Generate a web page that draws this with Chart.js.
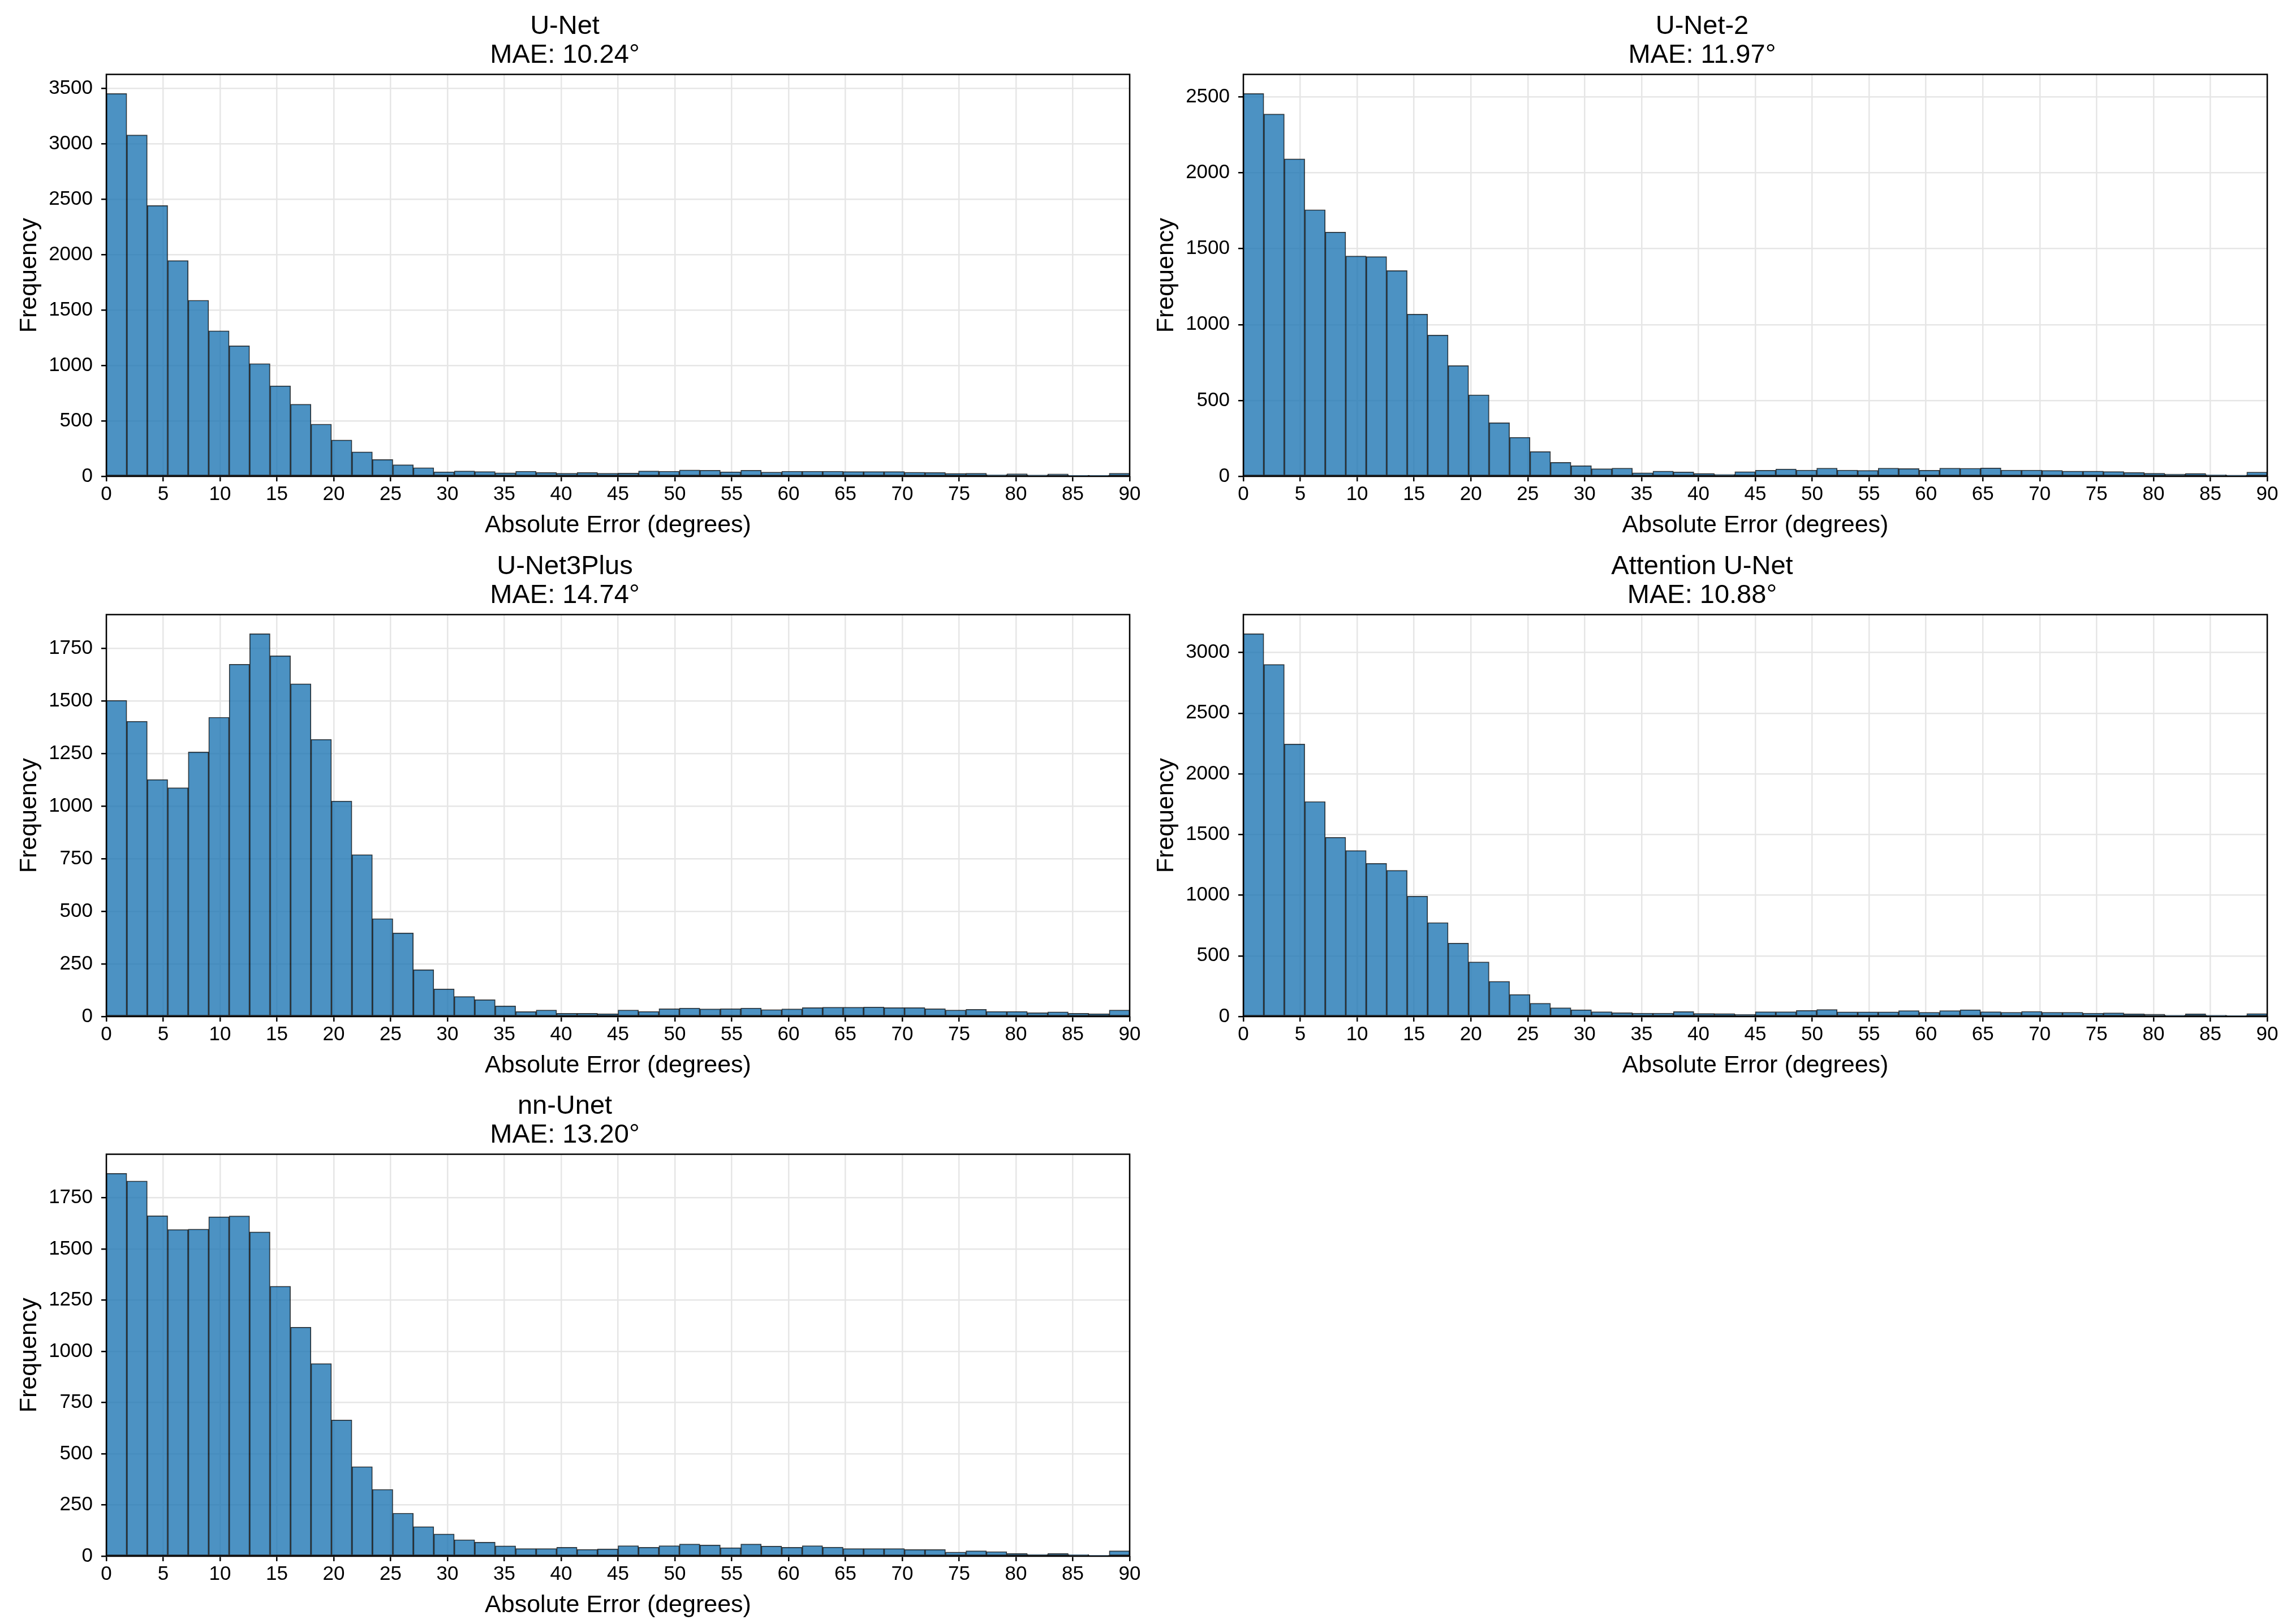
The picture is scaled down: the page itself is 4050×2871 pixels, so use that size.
<!DOCTYPE html>
<html>
<head>
<meta charset="utf-8">
<script src="https://cdn.jsdelivr.net/npm/chart.js@4.4.1/dist/chart.umd.min.js"></script>
<style>
  html, body { margin: 0; padding: 0; background: #fff; }
  body { width: 4050px; height: 2871px; position: relative; overflow: hidden; }
  canvas { position: absolute; }
</style>
</head>
<body>
<canvas id="chart-0"></canvas>
<canvas id="chart-1"></canvas>
<canvas id="chart-2"></canvas>
<canvas id="chart-3"></canvas>
<canvas id="chart-4"></canvas>
<script>
// histogram bins: 50 bins of 1.8 degrees over 0..90
const BIN_WIDTH = 1.8;
const BIN_COUNT = 50;

const modelNames = ['U-Net', 'U-Net-2', 'U-Net3Plus', 'Attention U-Net', 'nn-Unet'];
const maeValues = ['10.24', '11.97', '14.74', '10.88', '13.20'];

const unetCounts = [3454, 3080, 2443, 1947, 1589, 1313, 1178, 1017, 816, 650, 471, 327, 220, 151, 104, 78,
  40, 48, 43, 31, 46, 34, 28, 34, 28, 29, 48, 46, 57, 55, 40, 55, 38, 46, 46, 46,
  43, 43, 43, 36, 34, 26, 28, 15, 22, 12, 21, 10, 10, 28];
const unet2Counts = [2523, 2388, 2092, 1757, 1610, 1452, 1448, 1356, 1069, 931, 730, 537, 353, 257, 163, 92,
  70, 50, 54, 23, 34, 29, 19, 13, 30, 40, 48, 41, 54, 41, 39, 54, 51, 40, 54, 53,
  55, 41, 41, 39, 34, 34, 31, 25, 20, 15, 19, 11, 8, 28];
const unet3PlusCounts = [1502, 1403, 1126, 1087, 1257, 1422, 1674, 1819, 1714, 1581, 1317, 1024, 769, 465, 397, 222,
  131, 95, 80, 50, 23, 31, 15, 15, 13, 31, 24, 37, 40, 36, 37, 40, 33, 36, 42, 44,
  44, 45, 42, 42, 37, 31, 34, 24, 24, 18, 22, 15, 13, 31];
const attentionCounts = [3155, 2902, 2246, 1772, 1477, 1368, 1262, 1205, 992, 774, 605, 450, 290, 181, 109, 72,
  55, 39, 31, 28, 28, 41, 25, 24, 17, 39, 39, 50, 58, 38, 38, 38, 49, 35, 49, 55,
  39, 35, 42, 35, 35, 28, 30, 22, 20, 11, 22, 11, 8, 24];
const nnUnetCounts = [1869, 1832, 1662, 1595, 1597, 1657, 1661, 1583, 1318, 1118, 940, 665, 437, 326, 210, 144,
  108, 80, 68, 50, 37, 37, 43, 33, 35, 51, 43, 51, 59, 54, 41, 59, 49, 43, 51, 44,
  37, 37, 37, 32, 32, 20, 26, 22, 13, 9, 13, 8, 4, 26];

const allCounts = [unetCounts, unet2Counts, unet3PlusCounts, attentionCounts, nnUnetCounts];

// y tick labels of each subplot
const yTicksUnet = [0, 500, 1000, 1500, 2000, 2500, 3000, 3500];
const yTicksUnet2 = [0, 500, 1000, 1500, 2000, 2500];
const yTicksUnet3Plus = [0, 250, 500, 750, 1000, 1250, 1500, 1750];
const yTicksAttention = [0, 500, 1000, 1500, 2000, 2500, 3000];
const yTicksNnUnet = [0, 250, 500, 750, 1000, 1250, 1500, 1750];
const allYTicks = [yTicksUnet, yTicksUnet2, yTicksUnet3Plus, yTicksAttention, yTicksNnUnet];

const xTickValues = [0, 5, 10, 15, 20, 25, 30, 35, 40, 45, 50, 55, 60, 65, 70, 75, 80, 85, 90];

// where each subplot canvas sits on the page
const panelLayout = [
  { left: 0, top: 0 },
  { left: 2010, top: 0 },
  { left: 0, top: 955 },
  { left: 2010, top: 955 },
  { left: 0, top: 1909 },
];

const FONT = '"Liberation Sans", Arial, Helvetica, sans-serif';
const binCenters = Array.from({ length: BIN_COUNT }, (_, i) => (i + 0.5) * BIN_WIDTH);

const framePlugin = {
  id: 'frame',
  afterDatasetsDraw(chart) {
    const { ctx, chartArea } = chart;
    ctx.save();
    ctx.strokeStyle = '#000';
    ctx.lineWidth = 2.5;
    ctx.strokeRect(chartArea.left, chartArea.top, chartArea.right - chartArea.left, chartArea.bottom - chartArea.top);
    ctx.restore();
  },
};

const drawHistogram = (idx) => {
  const canvas = document.getElementById(`chart-${idx}`);
  const counts = allCounts[idx];
  canvas.width = idx % 2 === 0 ? 2025 : 2026;
  canvas.height = 955;
  canvas.style.left = panelLayout[idx].left + 'px';
  canvas.style.top = panelLayout[idx].top + 'px';

  new Chart(canvas, {
    type: 'bar',
    data: {
      datasets: [
        {
          data: binCenters.map((x, i) => ({ x: x, y: counts[i] })),
          backgroundColor: 'rgba(31, 119, 180, 0.8)',
          borderColor: 'rgba(0, 0, 0, 0.8)',
          borderWidth: 1.5,
          borderSkipped: false,
          barPercentage: 1,
          categoryPercentage: 1,
        },
      ],
    },
    options: {
      responsive: false,
      animation: false,
      devicePixelRatio: 1,
      layout: { padding: { left: 0, right: 28, top: 0, bottom: 0 } },
      plugins: {
        legend: { display: false },
        tooltip: { enabled: false },
        title: {
          display: true,
          text: [modelNames[idx], `MAE: ${maeValues[idx]}°`],
          color: '#000',
          font: { family: FONT, size: 47, weight: 'normal', lineHeight: 1.08 },
          padding: { top: 22, bottom: 8 },
        },
      },
      scales: {
        x: {
          type: 'linear',
          min: 0,
          max: 90,
          offset: false,
          afterFit: (scale) => { scale.height = 113; },
          afterBuildTicks: (scale) => { scale.ticks = xTickValues.map((v) => ({ value: v })); },
          ticks: {
            color: '#000',
            padding: 2,
            maxRotation: 0,
            autoSkip: false,
            font: { family: FONT, size: 35 },
            callback: (value) => String(value),
          },
          grid: {
            offset: false,
            color: '#e6e6e6',
            lineWidth: 2.5,
            tickColor: '#000',
            tickLength: 9,
            tickWidth: 2.5,
          },
          border: { display: false },
          title: {
            display: true,
            text: 'Absolute Error (degrees)',
            color: '#000',
            font: { family: FONT, size: 43 },
            padding: { top: 0, bottom: 0 },
          },
        },
        y: {
          min: 0,
          max: Math.max(...counts) * 1.05,
          afterFit: (scale) => { scale.width = 188; },
          afterBuildTicks: (scale) => { scale.ticks = allYTicks[idx].map((v) => ({ value: v })); },
          ticks: {
            color: '#000',
            padding: 15,
            autoSkip: false,
            font: { family: FONT, size: 35 },
            callback: (value) => String(value),
          },
          grid: {
            color: '#e6e6e6',
            lineWidth: 2.5,
            tickColor: '#000',
            tickLength: 9,
            tickWidth: 2.5,
          },
          border: { display: false },
          title: {
            display: true,
            text: 'Frequency',
            color: '#000',
            font: { family: FONT, size: 43 },
            padding: { top: 26, bottom: 0 },
          },
        },
      },
    },
    plugins: [framePlugin],
  });
};

modelNames.forEach((_, i) => drawHistogram(i));
</script>
</body>
</html>
